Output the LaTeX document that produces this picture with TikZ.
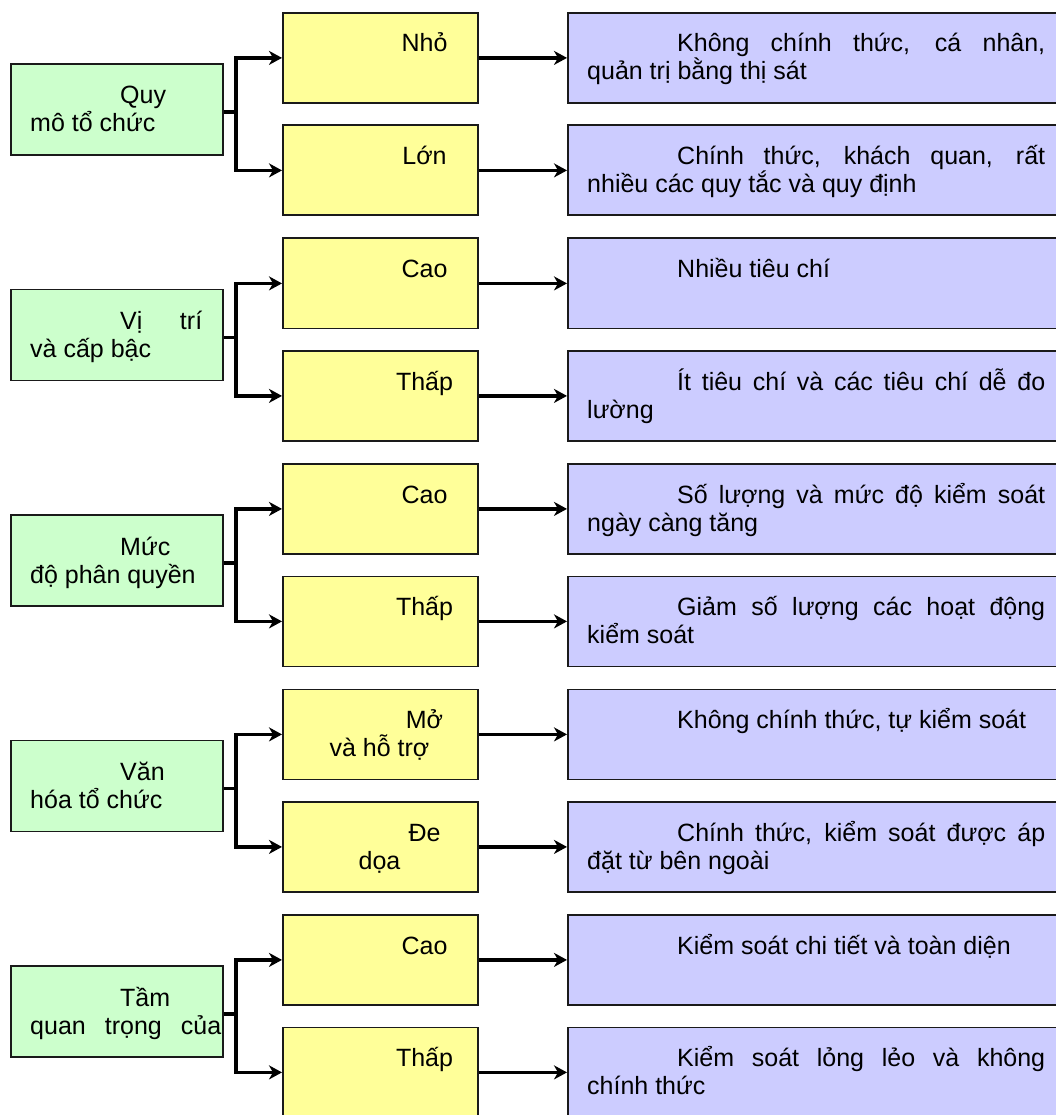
\documentclass[tikz,border=0pt]{standalone}
\usepackage{fontspec}
\setmainfont{Liberation Sans}
\usetikzlibrary{arrows.meta}
\definecolor{gfill}{HTML}{CCFFCC}
\definecolor{yfill}{HTML}{FFFF99}
\definecolor{bfill}{HTML}{CCCCFF}
\definecolor{edgec}{HTML}{1A1A1A}
\newcommand\grpboxes[1]{%
  \node[gbox] (#1g) at (10,63) {};
  \node[ybox] (#1ya) at (282,12) {};
  \node[ybox] (#1yb) at (282,124.5) {};
  \node[bbox] (#1ba) at (567,12) {};
  \node[bbox] (#1bb) at (567,124.5) {};
  \coordinate (#1s) at (236,112);
  \draw[conn] (#1g.east |- #1s) -- (#1s);
  \draw[arr] (#1s) |- (#1ya.west);
  \draw[arr] (#1s) |- (#1yb.west);
  \draw[arr] (#1ya) -- (#1ba);
  \draw[arr] (#1yb) -- (#1bb);
}
\begin{document}
\begin{tikzpicture}[x=1pt,y=-1pt,
  box/.style={draw=edgec,line width=1.8pt,anchor=north west,inner sep=0pt,minimum height=90pt},
  gbox/.style={box,fill=gfill,minimum width=212pt,minimum height=91pt},
  ybox/.style={box,fill=yfill,minimum width=195pt},
  bbox/.style={box,fill=bfill,minimum width=540pt},
  conn/.style={line width=3.3pt,draw=black},
  arr/.style={conn,-{Stealth[length=13pt,width=14pt,inset=4pt]}},
  txt/.style={inner sep=0pt,anchor=base west,font=\fontsize{25}{28}\selectfont},
  ctxt/.style={txt,anchor=base},
]
\useasboundingbox[fill=white] (0,0) rectangle (1056,1115);

% ---------- group 1
\begin{scope}
\grpboxes{a}
\node[txt] (agt1) at (120,104) {Quy};
\node[txt] (agt2) at (30,132) {mô tổ chức};
\node[ctxt] (ayat) at (379.5,52) {\hspace*{90pt}Nhỏ};
\node[ctxt] (aybt) at (379.5,164.5) {\hspace*{90pt}Lớn};
\node[txt] (abat1) at (677,52) {\makebox[368pt][s]{Không chính thức, cá nhân,}};
\node[txt] (abat2) at (587,80) {quản trị bằng thị sát};
\node[txt] (abbt1) at (677,164.5) {\makebox[368pt][s]{Chính thức, khách quan, rất}};
\node[txt] (abbt2) at (587,192.5) {nhiều các quy tắc và quy định};
\end{scope}

% ---------- group 2
\begin{scope}[yshift=-225.5pt]
\grpboxes{b}
\node[txt] (bgt1) at (120,104) {\makebox[82pt][s]{Vị trí}};
\node[txt] (bgt2) at (30,132) {và cấp bậc};
\node[ctxt] (byat) at (379.5,52) {\hspace*{90pt}Cao};
\node[ctxt] (bybt) at (379.5,164.5) {\hspace*{90pt}Thấp};
\node[txt] (bbat1) at (677,52) {Nhiều tiêu chí};
\node[txt] (bbbt1) at (677,164.5) {\makebox[368pt][s]{Ít tiêu chí và các tiêu chí dễ đo}};
\node[txt] (bbbt2) at (587,192.5) {lường};
\end{scope}

% ---------- group 3
\begin{scope}[yshift=-451pt]
\grpboxes{c}
\node[txt] (cgt1) at (120,104) {Mức};
\node[txt] (cgt2) at (30,132) {độ phân quyền};
\node[ctxt] (cyat) at (379.5,52) {\hspace*{90pt}Cao};
\node[ctxt] (cybt) at (379.5,164.5) {\hspace*{90pt}Thấp};
\node[txt] (cbat1) at (677,52) {\makebox[368pt][s]{Số lượng và mức độ kiểm soát}};
\node[txt] (cbat2) at (587,80) {ngày càng tăng};
\node[txt] (cbbt1) at (677,164.5) {\makebox[368pt][s]{Giảm số lượng các hoạt động}};
\node[txt] (cbbt2) at (587,192.5) {kiểm soát};
\end{scope}

% ---------- group 4
\begin{scope}[yshift=-676.5pt]
\grpboxes{d}
\node[txt] (dgt1) at (120,104) {Văn};
\node[txt] (dgt2) at (30,132) {hóa tổ chức};
\node[ctxt] (dyat1) at (379.5,52) {\hspace*{90pt}Mở};
\node[ctxt] (dyat2) at (379.5,80) {và hỗ trợ};
\node[ctxt] (dybt1) at (379.5,164.5) {\hspace*{90pt}Đe};
\node[ctxt] (dybt2) at (379.5,192.5) {dọa};
\node[txt] (dbat1) at (677,52) {Không chính thức, tự kiểm soát};
\node[txt] (dbbt1) at (677,164.5) {\makebox[368pt][s]{Chính thức, kiểm soát được áp}};
\node[txt] (dbbt2) at (587,192.5) {đặt từ bên ngoài};
\end{scope}

% ---------- group 5
\begin{scope}[yshift=-902pt]
\grpboxes{e}
\node[txt] (egt1) at (120,104) {Tầm};
\node[txt] (egt2) at (30,132) {\makebox[191pt][s]{quan trọng của}};
\node[ctxt] (eyat) at (379.5,52) {\hspace*{90pt}Cao};
\node[ctxt] (eybt) at (379.5,164.5) {\hspace*{90pt}Thấp};
\node[txt] (ebat1) at (677,52) {Kiểm soát chi tiết và toàn diện};
\node[txt] (ebbt1) at (677,164.5) {\makebox[368pt][s]{Kiểm soát lỏng lẻo và không}};
\node[txt] (ebbt2) at (587,192.5) {chính thức};
\end{scope}
\end{tikzpicture}
\end{document}
